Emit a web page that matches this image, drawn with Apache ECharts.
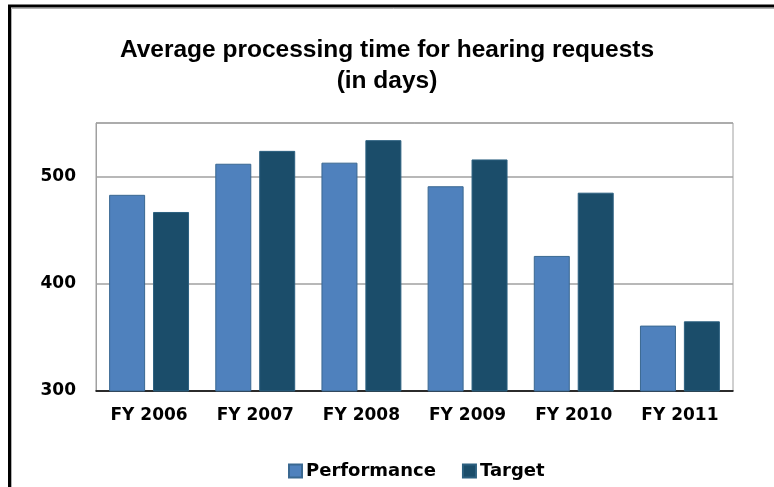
<!DOCTYPE html>
<html>
<head>
<meta charset="utf-8">
<script src="https://cdn.jsdelivr.net/npm/echarts@6/dist/echarts.min.js"></script>
<style>
  html, body { margin: 0; padding: 0; background: #fff; }
  #chart { width: 774px; height: 487px; }
</style>
</head>
<body>
<div id="chart"></div>
<script>
var categories = ['FY 2006', 'FY 2007', 'FY 2008', 'FY 2009', 'FY 2010', 'FY 2011'];
var performance = [483, 512, 513, 491, 426, 361];
var target = [467, 524, 534, 516, 485, 365];
var yTicks = [300, 400, 500];

var chart = echarts.init(document.getElementById('chart'));
var titleFont = '"Liberation Sans", Arial, sans-serif';
var font = '"DejaVu Sans", sans-serif';

var option = {
    backgroundColor: '#fff',
    animation: false,
    title: {
        text: 'Average processing time for hearing requests\n(in days)',
        left: 'center',
        top: 30,
        textStyle: {
            fontFamily: titleFont,
            fontSize: 24.5,
            fontWeight: 'bold',
            color: '#000',
            lineHeight: 31
        }
    },
    // outer frame of the original picture
    graphic: [
        { type: 'rect', shape: { x: 9.5, y: 6, width: 900, height: 600 },
          style: { fill: 'none', stroke: '#000', lineWidth: 3 }, silent: true },
        { type: 'rect', shape: { x: 11.5, y: 8.5, width: 900, height: 600 },
          style: { fill: 'none', stroke: '#b0b0b0', lineWidth: 1 }, silent: true }
    ],
    legend: {
        data: ['Performance', 'Target'],
        left: 283,
        top: 457,
        itemWidth: 13,
        itemHeight: 13,
        itemGap: 26,
        icon: 'rect',
        textStyle: {
            fontFamily: font,
            fontSize: 18,
            fontWeight: 'bold',
            color: '#000',
            padding: [0, 0, 0, -1]
        }
    },
    grid: {
        left: 96,
        right: 41,
        top: 123,
        bottom: 96,
        show: true,
        borderColor: '#a0a0a0',
        borderWidth: 1,
        backgroundColor: '#fff'
    },
    xAxis: {
        type: 'category',
        data: categories,
        axisTick: { show: false },
        axisLine: { lineStyle: { color: '#000', width: 1.5 } },
        axisLabel: {
            margin: 16,
            fontFamily: font,
            fontSize: 17,
            fontWeight: 'bold',
            color: '#000'
        }
    },
    yAxis: {
        type: 'value',
        min: 300,
        max: 550,
        interval: 100,
        axisLine: { show: true, lineStyle: { color: '#a0a0a0' } },
        axisTick: { show: false },
        splitLine: { lineStyle: { color: '#a0a0a0', width: 1.5 } },
        axisLabel: {
            showMaxLabel: false,
            margin: 20,
            fontFamily: font,
            fontSize: 17,
            fontWeight: 'bold',
            color: '#000',
            formatter: function (v) {
                return yTicks.indexOf(v) >= 0 ? String(v) : '';
            }
        }
    },
    series: [
        {
            name: 'Performance',
            type: 'bar',
            data: performance,
            barWidth: 36,
            barGap: '22%',
            itemStyle: { color: '#4f81bd', borderColor: '#3a6891', borderWidth: 1 }
        },
        {
            name: 'Target',
            type: 'bar',
            data: target,
            barWidth: 36,
            itemStyle: { color: '#1b4d6a', borderColor: '#2c6080', borderWidth: 1 }
        }
    ]
};

chart.setOption(option);
</script>
</body>
</html>
